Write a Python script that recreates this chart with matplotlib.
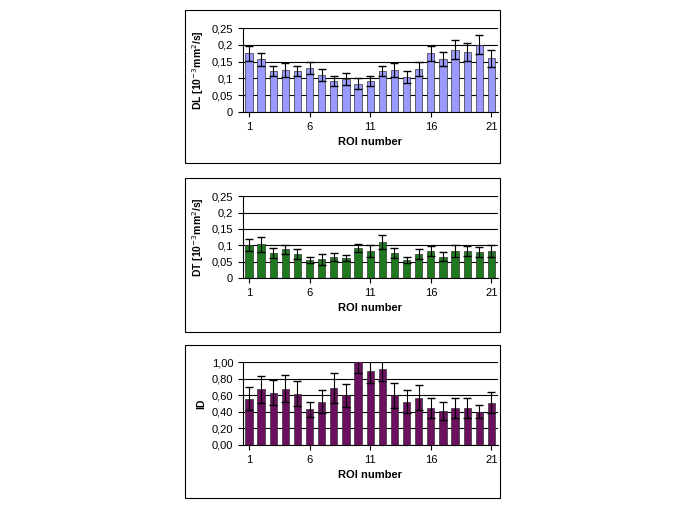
import numpy as np
import matplotlib.pyplot as plt
from matplotlib.patches import Rectangle

roi = np.arange(1, 22)

dl = [0.175, 0.157, 0.122, 0.125, 0.122, 0.13, 0.11, 0.093, 0.098, 0.085, 0.093,
      0.122, 0.125, 0.104, 0.128, 0.175, 0.157, 0.185, 0.178, 0.2, 0.16]
dl_err = [0.023, 0.02, 0.016, 0.02, 0.016, 0.018, 0.017, 0.014, 0.017, 0.015, 0.014,
          0.016, 0.02, 0.018, 0.02, 0.023, 0.021, 0.028, 0.027, 0.028, 0.025]
dt = [0.1, 0.104, 0.077, 0.088, 0.075, 0.055, 0.057, 0.065, 0.062, 0.092, 0.083,
      0.11, 0.077, 0.055, 0.075, 0.082, 0.065, 0.083, 0.082, 0.08, 0.082]
dt_err = [0.018, 0.023, 0.015, 0.014, 0.015, 0.01, 0.016, 0.012, 0.01, 0.013, 0.017,
          0.022, 0.015, 0.01, 0.015, 0.015, 0.014, 0.019, 0.015, 0.014, 0.018]
id_vals = [0.56, 0.67, 0.63, 0.68, 0.62, 0.43, 0.52, 0.69, 0.60, 1.02, 0.90,
           0.92, 0.60, 0.52, 0.57, 0.45, 0.41, 0.45, 0.45, 0.40, 0.51]
id_err = [0.14, 0.16, 0.15, 0.16, 0.15, 0.09, 0.14, 0.18, 0.14, 0.15, 0.15,
          0.15, 0.15, 0.14, 0.15, 0.12, 0.11, 0.12, 0.12, 0.08, 0.13]

plt.rcParams["font.family"] = "Liberation Sans"
fig = plt.figure(figsize=(6.92, 5.19), dpi=100)

# rahmen um jedes diagramm
for y0, y1 in [(10, 163), (178, 332), (345, 498)]:
    fig.patches.append(Rectangle((185 / 692, 1 - y1 / 519), 315 / 692, (y1 - y0) / 519,
                                 transform=fig.transFigure, fill=False, lw=0.8, ec="black"))

panels = [
    (0.784, 0.162, dl, dl_err, "#9999ff", 0.25, 0.05, "DL [10$^{-3}$mm$^2$/s]", "{:g}"),
    (0.464, 0.158, dt, dt_err, "#1f7a1f", 0.25, 0.05, "DT [10$^{-3}$mm$^2$/s]", "{:g}"),
    (0.143, 0.159, id_vals, id_err, "#6b0f5f", 1.0, 0.2, "ID", "{:.2f}"),
]

for bottom, height, vals, err, col, ymax, step, ylab, fmt in panels:
    ax = fig.add_axes([0.351, bottom, 0.368, height])
    ax.bar(roi, vals, width=0.6, color=col, edgecolor="#333333", lw=0.5, zorder=2)
    ax.errorbar(roi, vals, yerr=err, fmt="none", ecolor="black",
                elinewidth=0.8, capsize=3, zorder=3)
    ax.set_xlim(0.5, 21.5)
    ax.set_ylim(0, ymax)
    ticks = np.arange(0, ymax + step / 2, step)
    ax.set_yticks(ticks)
    ax.set_yticklabels([fmt.format(t).replace(".", ",") for t in ticks], fontsize=8)
    ax.set_xticks([1, 6, 11, 16, 21])
    ax.tick_params(axis="x", labelsize=8)
    ax.yaxis.grid(True, color="black", lw=0.8, zorder=0)
    ax.set_axisbelow(True)
    ax.set_ylabel(ylab, fontsize=7.5, fontweight="bold")
    ax.set_xlabel("ROI number", fontsize=8, fontweight="bold")
    for s in ["top", "right"]:
        ax.spines[s].set_visible(False)

fig.savefig("out.png", dpi=100)
